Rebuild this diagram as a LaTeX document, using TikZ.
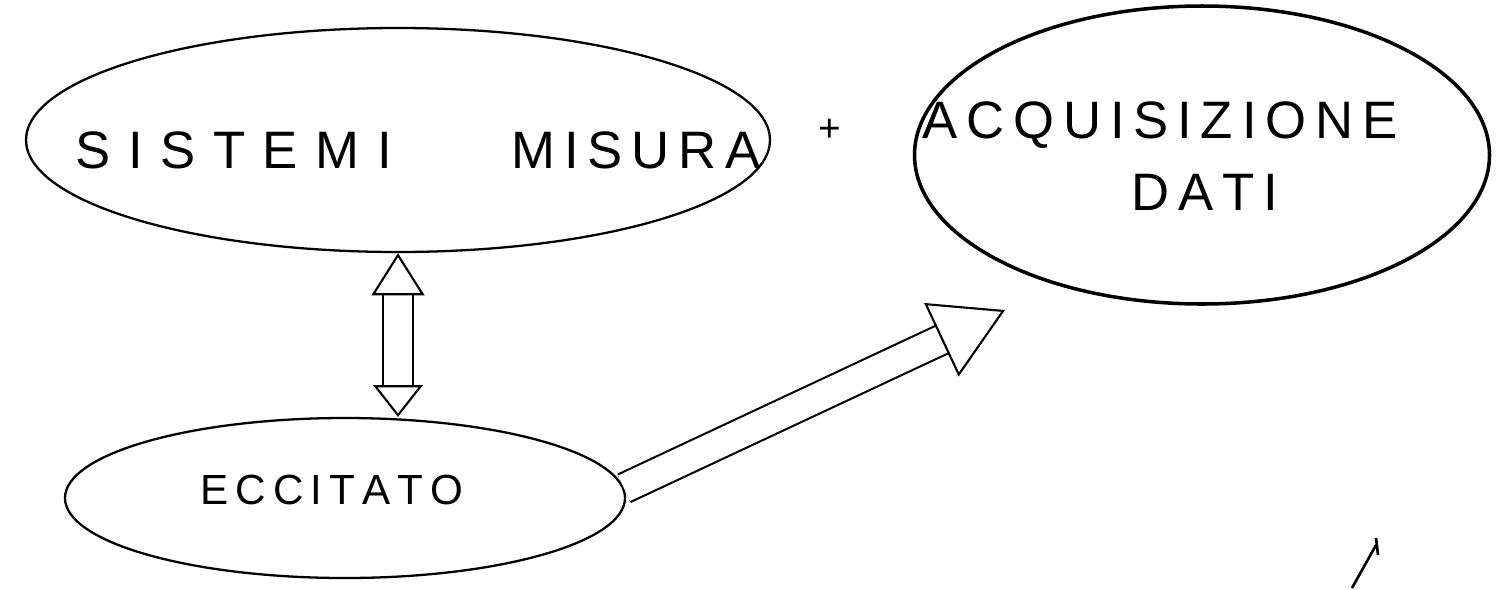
\documentclass[tikz,border=0pt]{standalone}
\usepackage{fontspec}
\setmainfont{Liberation Sans}
\usetikzlibrary{shapes.geometric,arrows.meta}

\tikzset{
  blob/.style={ellipse, draw, line width=1.3pt, inner sep=0pt},
  scritta/.style={font=\fontsize{30}{36}\selectfont},
  freccia/.style={double, double distance=16pt, line width=1.2pt},
}

\begin{document}
\begin{tikzpicture}[x=0.02cm, y=-0.02cm]
\useasboundingbox (0,0) rectangle (1507,589);

% the three blobs
\node[blob, minimum width=744*0.02cm, minimum height=224*0.02cm] (sis) at (398,140) {};
\node[blob, line width=2pt, minimum width=575*0.02cm, minimum height=298*0.02cm] (acq) at (1202,155) {};
\node[blob, minimum width=560*0.02cm, minimum height=160*0.02cm] (ecc) at (345,498) {};

% texts
\node[scritta] (tsis) at (418,150) {S\,\,I\,\,S\,\,T\,\,E\,\,M\,\,I\qquad\ M\,I\,S\,U\,R\,A};
\node[scritta, font=\fontsize{22}{26}\selectfont] (piu) at (830,130) {+};
\node[scritta] (tacq) at (1160,125) {A\,C\,Q\,U\,I\,S\,I\,Z\,I\,O\,N\,E};
\node[scritta] (tdati) at (1205,192) {D\,A\,T\,I};
\node[scritta, font=\fontsize{24}{30}\selectfont] (tecc) at (332,490) {E\,C\,C\,I\,T\,A\,T\,O};

% connectors
\coordinate (punta) at (1005,310);
\draw[freccia, {Triangle[open,length=24pt,width=30pt]}-{Triangle[open,length=18pt,width=28pt]}]
  (sis.south) -- (sis.south |- ecc.north);
\draw[freccia, -{Triangle[open,length=40pt,width=46pt]}] (ecc.2) -- (punta);

% stray pen mark
\draw[line width=1.5pt] (1352,588) -- (1376,545) (1376,538) -- (1378,555);
\end{tikzpicture}
\end{document}
